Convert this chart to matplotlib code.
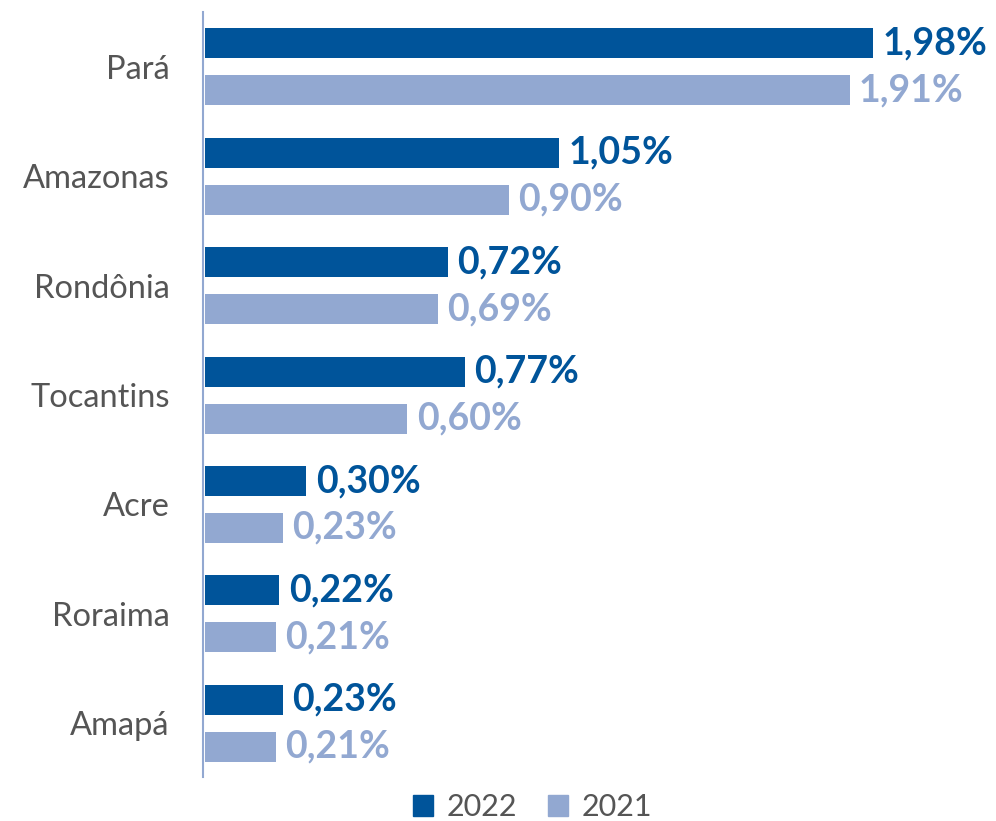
import numpy as np
import matplotlib
matplotlib.use('Agg')
import matplotlib.pyplot as plt
from matplotlib.patches import Patch

states = ['Pará', 'Amazonas', 'Rondônia', 'Tocantins', 'Acre', 'Roraima', 'Amapá']
vals_2022 = [1.98, 1.05, 0.72, 0.77, 0.30, 0.22, 0.23]
vals_2021 = [1.91, 0.90, 0.69, 0.60, 0.23, 0.21, 0.21]
series_names = ['2022', '2021']

c22 = '#00549a'
c21 = '#92a8d1'

plt.rcParams['font.family'] = ['Lato', 'DejaVu Sans']

fig = plt.figure(figsize=(9.96, 8.21), dpi=100)
ax = fig.add_axes([203/996, 44/821, 1 - 203/996, 765/821])

y = np.arange(len(states))
h = 0.274
off = 0.2146
ax.barh(y - off, vals_2022, height=h, color=c22, left=0.006)
ax.barh(y + off, vals_2021, height=h, color=c21, left=0.006)

def fmt(v):
    return ('%.2f' % v).replace('.', ',') + '%'

# value labels next to the bars
for yi, v in zip(y, vals_2022):
    ax.text(v + 0.034, yi - off, fmt(v), va='center', ha='left',
            fontsize=27, fontweight='bold', color=c22)
for yi, v in zip(y, vals_2021):
    ax.text(v + 0.034, yi + off, fmt(v), va='center', ha='left',
            fontsize=27, fontweight='bold', color=c21)

ax.set_xlim(0, 2.35)
ax.set_ylim(6.49, -0.5)
ax.set_yticks(y)
ax.set_yticklabels(states, fontsize=23.5, color='#555555')
ax.tick_params(axis='y', length=0, pad=24)
ax.set_xticks([])
for s in ['top', 'right', 'bottom']:
    ax.spines[s].set_visible(False)
ax.spines['left'].set_color(c21)
ax.spines['left'].set_linewidth(1.5)

handles = [Patch(color=c22), Patch(color=c21)]
fig.legend(handles, series_names, loc='center', bbox_to_anchor=(0.535, 0.017),
           ncol=2, frameon=False, fontsize=22, handlelength=0.65, handleheight=0.7,
           handletextpad=0.45, columnspacing=1.0, labelcolor='#555555')

fig.savefig('out.png', dpi=100)
